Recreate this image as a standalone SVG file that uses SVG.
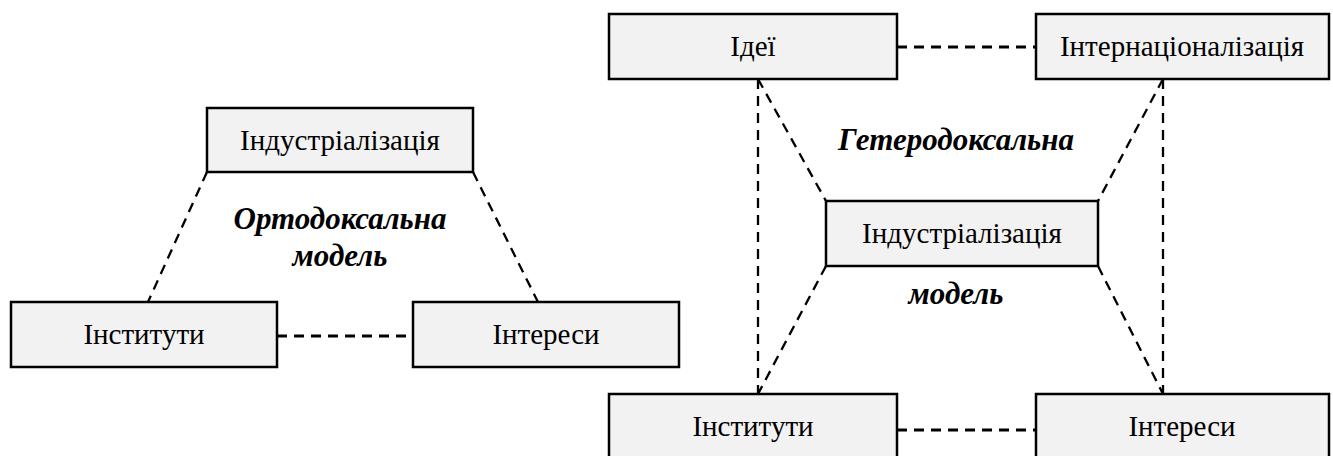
<svg xmlns="http://www.w3.org/2000/svg" width="1333" height="456" viewBox="0 0 1333 456">
  <style>
    .box { fill: #f2f2f2; stroke: #000; stroke-width: 2.5; }
    .lbl { font-size: 29px; fill: #000; text-anchor: middle; }
    .cap { font-size: 31px; font-weight: bold; font-style: italic; fill: #000; text-anchor: middle; }
    .link { stroke: #000; stroke-width: 2.3; stroke-dasharray: 10 7; fill: none; }
    .link.h { stroke-width: 3; }
  </style>
  <rect width="1333" height="456" fill="#fff"/>

  <!-- connectors -->
  <g id="connectors">
    <!-- orthodox model -->
    <line class="link" x1="207" y1="172" x2="148" y2="302"/>
    <line class="link" x1="473" y1="172" x2="538" y2="302"/>
    <line class="link h" x1="277" y1="336" x2="413" y2="336"/>
    <!-- heterodox model -->
    <line class="link h" x1="897" y1="47" x2="1036" y2="47"/>
    <line class="link h" x1="897" y1="430" x2="1036" y2="430"/>
    <line class="link" x1="758" y1="79" x2="758" y2="394"/>
    <line class="link" x1="1163" y1="79" x2="1163" y2="394"/>
    <line class="link" x1="758" y1="79" x2="826" y2="201"/>
    <line class="link" x1="1163" y1="79" x2="1098" y2="201"/>
    <line class="link" x1="826" y1="266" x2="758" y2="394"/>
    <line class="link" x1="1098" y1="266" x2="1163" y2="394"/>
  </g>

  <g font-family="'Liberation Serif', 'DejaVu Serif', serif">
  <!-- orthodox model nodes -->
  <g id="ortho-industrialization">
    <rect class="box" x="207" y="108" width="266" height="64"/>
    <text class="lbl" x="340" y="150">Індустріалізація</text>
  </g>
  <g id="ortho-institutions">
    <rect class="box" x="11" y="302" width="266" height="65"/>
    <text class="lbl" x="144" y="344">Інститути</text>
  </g>
  <g id="ortho-interests">
    <rect class="box" x="413" y="302" width="266" height="65"/>
    <text class="lbl" x="546" y="344">Інтереси</text>
  </g>
  <g id="ortho-caption">
    <text class="cap" x="340" y="229">Ортодоксальна</text>
    <text class="cap" x="340" y="266">модель</text>
  </g>

  <!-- heterodox model nodes -->
  <g id="hetero-ideas">
    <rect class="box" x="609" y="14" width="288" height="65"/>
    <text class="lbl" x="753" y="56">Ідеї</text>
  </g>
  <g id="hetero-internationalization">
    <rect class="box" x="1036" y="14" width="293" height="65"/>
    <text class="lbl" x="1182" y="56">Інтернаціоналізація</text>
  </g>
  <g id="hetero-industrialization">
    <rect class="box" x="826" y="201" width="272" height="65"/>
    <text class="lbl" x="962" y="243">Індустріалізація</text>
  </g>
  <g id="hetero-institutions">
    <rect class="box" x="609" y="394" width="288" height="70"/>
    <text class="lbl" x="753" y="436">Інститути</text>
  </g>
  <g id="hetero-interests">
    <rect class="box" x="1036" y="394" width="293" height="70"/>
    <text class="lbl" x="1182" y="436">Інтереси</text>
  </g>
  <g id="hetero-caption">
    <text class="cap" x="956" y="150">Гетеродоксальна</text>
    <text class="cap" x="956" y="304">модель</text>
  </g>
  </g>
</svg>
